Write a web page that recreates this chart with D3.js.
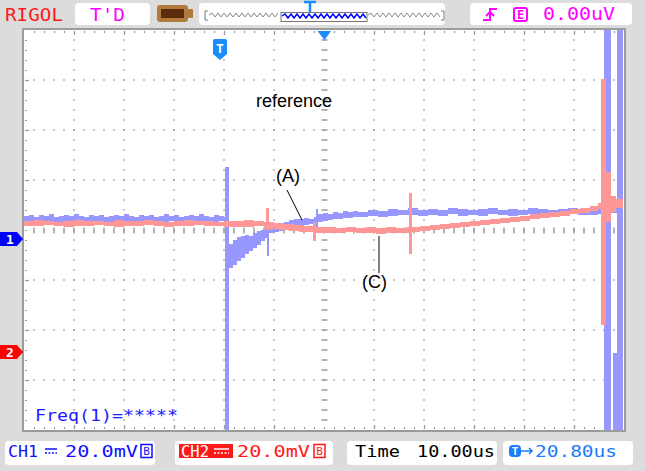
<!DOCTYPE html>
<html>
<head>
<meta charset="utf-8">
<script src="https://cdn.jsdelivr.net/npm/d3@7"></script>
<style>
body{margin:0;background:#dcdcdc}
svg{display:block}
text{font-family:"DejaVu Sans Mono",monospace}
</style>
</head>
<body>
<svg width="645" height="471"></svg>
<script>
// time in us and level in mV, both measured from the screen centre
// each entry: [t, top, bottom] of the trace band, held until the next t
var ch1Trace = [
	[-60,5.6,3.2],[-59,6.0,3.6],[-58,5.2,3.2],[-57,6.0,2.8],[-56,5.6,3.2],[-55,6.4,3.6],[-54,5.2,3.2],[-53,5.6,2.8],
	[-52,6.0,3.6],[-51,5.6,3.2],[-50,6.4,3.2],[-49,5.6,2.8],[-48,5.2,3.6],[-47,6.0,3.2],[-46,5.6,3.2],[-45,6.0,3.6],
	[-44,5.2,3.2],[-43,5.6,2.8],[-42,6.0,3.2],[-41,5.6,3.6],[-40,6.4,3.2],[-39,5.6,2.8],[-38,5.2,3.6],[-37,6.0,3.2],
	[-36,5.6,3.2],[-35,6.0,3.6],[-34,5.2,3.2],[-33,5.6,2.8],[-32,6.4,3.2],[-31,5.6,3.6],[-30,6.0,3.2],[-29,5.2,2.8],
	[-28,5.6,3.6],[-27,6.0,3.2],[-26,5.6,3.2],[-25,6.4,3.6],[-24,5.6,3.2],[-23,5.2,2.8],[-22,6.0,3.2],[-21,5.6,3.6],
	[-20,5.2,2.8],
	[-19.8,25.2,-80],
	[-19.0,-5.6,-15.2],[-18.2,-4.0,-14.0],[-17.4,-2.8,-12.4],[-16.6,-2.4,-11.2],[-15.8,-2.0,-9.6],[-15.0,-2.4,-8.4],
	[-14.2,-1.2,-7.2],[-13.4,-0.4,-6.0],[-12.6,0,-4.4],[-11.8,1.2,-3.2],
	[-11.4,8.4,-10.4],
	[-11,2.4,-1.2],[-10,2.0,-0.8],[-9,2.4,-0.4],[-8,3.2,0],[-7,4.0,0.8],[-6,4.4,1.6],[-5,4.4,2.0],[-4,4.8,2.0],
	[-3,4.4,2.4],[-2,5.2,2.4],
	[-1.6,8.4,1.2],
	[-1.2,6.4,3.2],[-0.2,6.8,3.6],[0.8,6.4,4.0],[1.8,7.2,4.4],[2.8,6.8,4.4],[3.8,7.6,4.8],[4.8,7.2,4.8],[5.8,7.6,5.2],
	[6.8,7.2,5.2],[8.8,8.0,5.6],[10.8,7.6,5.2],[12.8,8.4,5.6],[14.8,8.0,6.0],[16.8,8.8,6.0],[18.8,8.0,5.6],[20.8,8.4,6.0],
	[22.8,8.0,5.6],[24.8,8.8,6.4],[26.8,8.4,5.6],[28.8,8.0,6.0],[30.8,8.4,5.6],[32.8,8.8,6.4],[34.8,8.0,6.0],[36.8,8.4,5.6],
	[38.8,8.0,6.0],[40.8,8.8,6.4],[42.8,8.4,6.0],[44.8,8.0,5.6],[46.8,8.4,6.0],[48.8,8.8,6.4],[50.8,8.4,6.0],[52.8,8.0,6.0],
	[54.8,8.4,6.4],
	[56.0,80,-80],[57.4,9.2,6.8],[58.6,80,-80],[59.8,80,-80]
];
// extra blocks of the ch1 burst at the right edge: [t0, t1, top, bottom]
var ch1Bursts = [
	[57.8,59.8,-49.2,-80]
];
var ch2Trace = [
	[-60,3.6,1.6],[-58,4.0,1.6],[-56,3.6,2.0],[-54,3.2,1.6],[-52,3.6,1.2],[-50,4.0,1.6],[-48,3.6,1.6],[-46,3.6,2.0],
	[-44,3.2,1.6],[-42,4.0,1.2],[-40,3.6,1.6],[-38,3.6,1.6],[-36,4.0,2.0],[-34,3.6,1.6],[-32,3.2,1.2],[-30,3.6,1.6],
	[-28,4.0,1.6],[-26,3.6,2.0],[-24,3.6,1.6],[-22,3.2,1.6],[-20,3.6,1.2],[-18,3.6,1.2],[-16,4.0,1.2],[-14,3.6,1.6],
	[-12,3.2,1.2],
	[-11.6,8.8,0],
	[-11,3.2,0.4],[-10,2.8,0.4],[-9,2.8,0],[-8,2.4,0],[-7,2.4,-0.4],[-6,2.0,-0.4],[-5,2.0,-0.8],[-4,1.6,-0.8],[-3,1.6,-0.8],
	[-2.2,3.2,-4.4],
	[-1.6,1.2,-1.2],[0.4,1.2,-1.2],[2.4,0.8,-1.2],[4.4,1.2,-0.8],[6.4,0.8,-1.2],[8.4,1.2,-1.2],[10.4,0.8,-1.6],[12.4,1.2,-1.2],
	[14.4,0.8,-1.2],[16.4,1.2,-1.2],
	[17.0,14.8,-9.6],
	[17.6,1.2,-0.8],[19.2,1.6,-0.4],[21.2,2.0,0],[23.2,2.4,0.4],[25.2,2.8,0.8],[27.2,3.2,1.2],[29.2,3.6,1.6],[31.2,4.0,2.0],
	[33.2,4.4,2.4],[35.2,4.8,2.8],[37.2,5.2,3.2],[39.2,5.6,3.6],[41.2,6.4,4.4],[43.2,6.8,4.8],[45.2,7.2,5.2],[47.2,7.6,5.6],
	[49.2,8.4,6.4],[51.2,8.8,6.8],[53.2,9.6,7.6],[54.8,10.8,8.4],
	[55.4,60.4,-38.0],[56.4,23.2,3.2],[57.4,13.6,7.2],[58.4,12.4,8.8],[59.8,12.4,8.8]
];

var hDivs = [-50,-40,-30,-20,-10,10,20,30,40,50];
var vDivs = [-60,-40,-20,20,40,60];
var notes = [
	{text:"reference", t:-13.6, v:49.2, anchor:"start"},
	{text:"(A)", t:-7.2, v:19.2, anchor:"middle"},
	{text:"(C)", t:10.1, v:-23.2, anchor:"middle"}
];
var leaders = [
	[[-7.4,16.0],[-4.4,4.0]],
	[[11.0,-2.4],[11.0,-17.2]]
];

var svg = d3.select("svg");
var x = d3.scaleLinear().domain([-60,60]).range([24,624]);
var y = d3.scaleLinear().domain([-80,80]).range([430,30]);
var minorT = d3.range(-58,59,2);
var minorV = d3.range(-76,77,4);

// ---- header and footer boxes
function box(x0,y0,w,h){
	svg.append("rect").attr("x",x0).attr("y",y0).attr("width",w).attr("height",h)
		.attr("rx",4).attr("fill","#fff");
}
function label(txt,x0,base,len,col,size){
	return svg.append("text").attr("x",x0).attr("y",base).attr("font-size",size||16)
		.attr("textLength",len).attr("lengthAdjust","spacingAndGlyphs").attr("fill",col).text(txt);
}

label("RIGOL",5,21,58,"#ff1a1a",17);
box(75,3,75,22);
label("T'D",90,21,35,"#ff00ff",17);

// battery-like icon
svg.append("rect").attr("x",157).attr("y",5).attr("width",31).attr("height",17).attr("rx",3).attr("fill","#b07a3c");
svg.append("rect").attr("x",188).attr("y",9).attr("width",5).attr("height",9).attr("rx",1).attr("fill","#b07a3c");
svg.append("rect").attr("x",161).attr("y",9).attr("width",23).attr("height",9).attr("fill","#5a2c0c");

// memory bar
box(199,3,246,22);
function zig(x0,x1,yc,amp){
	var p = "M"+x0+","+yc;
	for (var xx=x0+3, k=0; xx<=x1; xx+=3, k++) p += "L"+xx+","+(yc+(k%2?amp:-amp));
	return p;
}
svg.append("path").attr("d","M208,11H205V20H208").attr("fill","none").attr("stroke","#777");
svg.append("path").attr("d","M441,11H444V20H441").attr("fill","none").attr("stroke","#777");
svg.append("path").attr("d",zig(209,280,15,2)).attr("fill","none").attr("stroke","#888");
svg.append("path").attr("d",zig(368,440,15,2)).attr("fill","none").attr("stroke","#888");
svg.append("rect").attr("x",281).attr("y",12.5).attr("width",86).attr("height",9).attr("fill","none").attr("stroke","#777");
svg.append("path").attr("d",zig(282,366,16,2)).attr("fill","none").attr("stroke","#0000ff").attr("stroke-width",1.5);
svg.append("path").attr("d","M304,2H316M310,2V12").attr("stroke","#1a8cff").attr("stroke-width",2.5);

// trigger box
box(470,3,162,22);
svg.append("path").attr("d","M483,20H490V9H497M486,16L490,12L494,16").attr("fill","none")
	.attr("stroke","#ff00ff").attr("stroke-width",2);
svg.append("rect").attr("x",514).attr("y",8).attr("width",13).attr("height",13).attr("rx",2)
	.attr("fill","none").attr("stroke","#ff00ff").attr("stroke-width",2);
svg.append("text").attr("x",520.5).attr("y",19).attr("text-anchor","middle").attr("font-size",12)
	.attr("font-weight","bold").attr("fill","#ff00ff").text("E");
label("0.00uV",543,20,72,"#ff00ff",17);

// ---- screen
svg.append("rect").attr("x",23).attr("y",29).attr("width",602).attr("height",402)
	.attr("fill","#fff").attr("stroke","#9c9c9c").attr("stroke-width",2);

var grid = svg.append("g").attr("fill","#9a9a9a");
hDivs.forEach(function(t){
	minorV.forEach(function(v){
		grid.append("rect").attr("x",x(t)-0.75).attr("y",y(v)-0.75).attr("width",1.5).attr("height",1.5);
	});
});
vDivs.forEach(function(v){
	minorT.forEach(function(t){
		grid.append("rect").attr("x",x(t)-0.75).attr("y",y(v)-0.75).attr("width",1.5).attr("height",1.5);
	});
});
// centre lines with dashes
minorV.forEach(function(v){
	grid.append("rect").attr("x",x(0)-2.5).attr("y",y(v)-0.75).attr("width",6).attr("height",1.5);
});
minorT.forEach(function(t){
	grid.append("rect").attr("x",x(t)-0.75).attr("y",y(0)-2.5).attr("width",1.5).attr("height",6);
});

// border ticks through d3 axes
function edge(axis,tx,ty,vals,size){
	var g = svg.append("g").attr("transform","translate("+tx+","+ty+")")
		.call(axis.tickValues(vals).tickSize(size).tickFormat(""));
	g.select(".domain").remove();
	g.selectAll("line").attr("stroke","#9a9a9a").attr("stroke-width",1.2);
}
edge(d3.axisBottom(x),0,31,minorT,2);
edge(d3.axisTop(x),0,429,minorT,2);
edge(d3.axisRight(y),25,0,minorV,2);
edge(d3.axisLeft(y),623,0,minorV,2);
edge(d3.axisBottom(x),0,31,hDivs,4);
edge(d3.axisTop(x),0,429,hDivs,4);
edge(d3.axisRight(y),25,0,vDivs,4);
edge(d3.axisLeft(y),623,0,vDivs,4);

// ---- traces
svg.append("clipPath").attr("id","scr").append("rect")
	.attr("x",24).attr("y",30).attr("width",600).attr("height",400);
var band = d3.area().curve(d3.curveStepAfter)
	.x(function(d){return x(d[0]);})
	.y0(function(d){return y(d[2]);})
	.y1(function(d){return y(d[1]);});
var traces = svg.append("g").attr("clip-path","url(#scr)");
traces.append("path").attr("d",band(ch1Trace)).attr("fill","#9797ff");
traces.selectAll(".burst").data(ch1Bursts).enter().append("rect")
	.attr("x",function(d){return x(d[0]);})
	.attr("width",function(d){return x(d[1])-x(d[0]);})
	.attr("y",function(d){return y(d[2]);})
	.attr("height",function(d){return y(d[3])-y(d[2]);})
	.attr("fill","#9797ff");
traces.append("path").attr("d",band(ch2Trace)).attr("fill","#ff9797");

// annotations
leaders.forEach(function(l){
	svg.append("line").attr("x1",x(l[0][0])).attr("y1",y(l[0][1]))
		.attr("x2",x(l[1][0])).attr("y2",y(l[1][1])).attr("stroke","#000").attr("stroke-width",1);
});
svg.selectAll(".note").data(notes).enter().append("text")
	.attr("x",function(d){return x(d.t);}).attr("y",function(d){return y(d.v);})
	.attr("text-anchor",function(d){return d.anchor;})
	.style("font-family","'Liberation Sans',Arial,sans-serif").attr("font-size",18)
	.text(function(d){return d.text;});

label("Freq(1)=*****",35,421,143,"#1c1cff",16);

// markers
svg.append("path").attr("d","M0,232H17L23,239L17,246H0Z").attr("fill","#0000ff");
svg.append("text").attr("x",10).attr("y",244).attr("text-anchor","middle").attr("font-size",13)
	.attr("font-weight","bold").attr("fill","#fff").text("1");
svg.append("path").attr("d","M0,345H17L23,352L17,359H0Z").attr("fill","#ff0000");
svg.append("text").attr("x",10).attr("y",357).attr("text-anchor","middle").attr("font-size",13)
	.attr("font-weight","bold").attr("fill","#fff").text("2");
var trigX = x(-20.8);
svg.append("path").attr("d","M"+(trigX-7)+",41Q"+(trigX-7)+",39 "+(trigX-5)+",39H"+(trigX+5)+"Q"+(trigX+7)+",39 "+(trigX+7)+",41V54L"+trigX+",60L"+(trigX-7)+",54Z")
	.attr("fill","#1a8cff");
svg.append("text").attr("x",trigX).attr("y",53).attr("text-anchor","middle").attr("font-size",13)
	.attr("font-weight","bold").attr("fill","#fff").text("T");
svg.append("path").attr("d","M"+(x(0)-6.5)+",31H"+(x(0)+7)+"L"+(x(0)+0.5)+",40Z").attr("fill","#1a8cff");

// ---- footer
box(5,441,150,24);
label("CH1",8,457,30,"#1010ff");
svg.append("path").attr("d","M45,449H57").attr("stroke","#1010ff").attr("stroke-width",1.5);
svg.append("path").attr("d","M45,453H57").attr("stroke","#1010ff").attr("stroke-width",1.5).attr("stroke-dasharray","2,1.5");
label("20.0mV",65,457,73,"#1010ff");
svg.append("rect").attr("x",141).attr("y",444.5).attr("width",11).attr("height",13).attr("fill","none").attr("stroke","#1010ff").attr("stroke-width",1.5);
svg.append("text").attr("x",146.5).attr("y",455).attr("text-anchor","middle").attr("font-size",11).attr("fill","#1010ff").text("B");

box(175,441,158,24);
svg.append("rect").attr("x",179).attr("y",444).attr("width",54).attr("height",14).attr("fill","#ff1a1a");
label("CH2",181,457,28,"#fff");
svg.append("path").attr("d","M214,449H229").attr("stroke","#fff").attr("stroke-width",1.5);
svg.append("path").attr("d","M214,453H229").attr("stroke","#fff").attr("stroke-width",1.5).attr("stroke-dasharray","2,1.5");
label("20.0mV",237,457,73,"#ff1a1a");
svg.append("rect").attr("x",314).attr("y",444.5).attr("width",11).attr("height",13).attr("fill","none").attr("stroke","#ff1a1a").attr("stroke-width",1.5);
svg.append("text").attr("x",319.5).attr("y",455).attr("text-anchor","middle").attr("font-size",11).attr("fill","#ff1a1a").text("B");

box(347,441,150,24);
label("Time",355,457,45,"#000");
label("10.00us",417,457,78,"#000");

box(503,441,130,24);
svg.append("rect").attr("x",509).attr("y",445).attr("width",12).attr("height",12).attr("rx",4).attr("fill","#1a7cff");
svg.append("text").attr("x",515).attr("y",455).attr("text-anchor","middle").attr("font-size",11)
	.attr("font-weight","bold").attr("fill","#fff").text("T");
svg.append("path").attr("d","M521,451H532M529,448L532,451L529,454").attr("fill","none").attr("stroke","#1a7cff").attr("stroke-width",1.5);
label("20.80us",535,457,82,"#1a7cff");
</script>
</body>
</html>
